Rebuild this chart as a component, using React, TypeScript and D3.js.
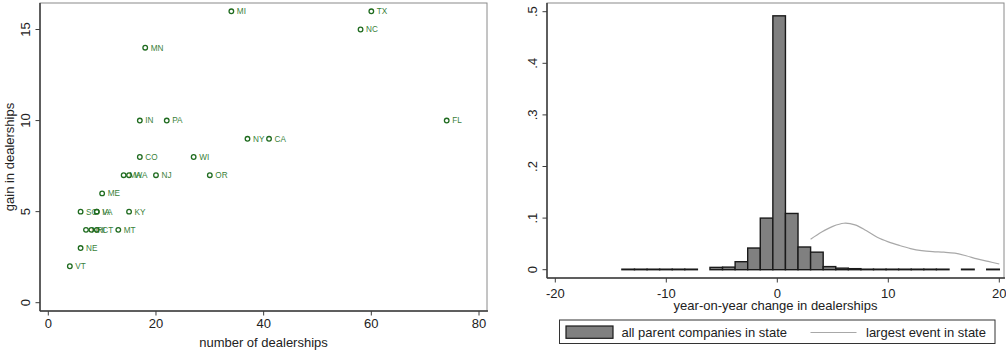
import React from 'react';
import * as d3 from 'd3';

// left panel: state scatter
const states = ['MI', 'TX', 'NC', 'MN', 'IN', 'PA', 'FL', 'NY', 'CA', 'CO', 'WI', 'MA', 'WA', 'NJ', 'OR', 'ME', 'SC', 'IA', 'VA', 'KY', 'NH', 'RI', 'CT', 'MT', 'NE', 'VT'];
const dealerships = [34, 60, 58, 18, 17, 22, 74, 37, 41, 17, 27, 14, 15, 20, 30, 10, 6, 9, 9, 15, 7, 8, 9, 13, 6, 4];
const gains = [16, 16, 15, 14, 10, 10, 10, 9, 9, 8, 8, 7, 7, 7, 7, 6, 5, 5, 5, 5, 4, 4, 4, 4, 3, 2];
const scatterXTicks = [0, 20, 40, 60, 80];
const scatterYTicks = [0, 5, 10, 15];

// right panel: histogram of year-on-year change (30 bins from -14 to 20)
const binStart = -14;
const binEnd = 20;
const histDensity = [
  0.001, 0.001, 0.001, 0.001, 0.001, 0.001, 0, 0.0045, 0.005, 0.0155,
  0.042, 0.1, 0.492, 0.109, 0.044, 0.034, 0.006, 0.003, 0.002, 0.001,
  0.001, 0.001, 0.001, 0.001, 0.001, 0.001, 0, 0.001, 0, 0.001,
];
// kernel density of largest event in state
const eventX = [3, 4, 5, 6, 7, 8, 9, 10, 11, 12, 13, 14, 15, 16, 17, 18, 19, 20];
const eventDensity = [0.059, 0.073, 0.084, 0.09, 0.087, 0.076, 0.063, 0.054, 0.047, 0.041, 0.037, 0.035, 0.034, 0.032, 0.027, 0.021, 0.016, 0.011];
const histXTicks = [-20, -10, 0, 10, 20];
const histYTicks = [0, 0.1, 0.2, 0.3, 0.4, 0.5];
const histYLabels = ['0', '.1', '.2', '.3', '.4', '.5'];
const legendLabels = ['all parent companies in state', 'largest event in state'];

const font = '"Liberation Sans", Arial, sans-serif';
const axisColor = '#3c3c3c';
const frameColor = '#8a8a8a';

function Scatter() {
  const left = 40, right = 487, top = 3, bottom = 311;
  const x = d3.scaleLinear().domain([0, 80]).range([48.3, 479]);
  const y = d3.scaleLinear().domain([0, 15]).range([302.7, 29.5]);

  return (
    <g>
      <rect x={left} y={top} width={right - left} height={bottom - top} fill="white" stroke={frameColor} strokeWidth={1} />
      {states.map((s, i) => (
        <g key={s}>
          <circle cx={x(dealerships[i])} cy={y(gains[i])} r={2.3} fill="none" stroke="#1f6b1f" strokeWidth={1.3} />
          <text x={x(dealerships[i]) + 5.5} y={y(gains[i]) + 2.9} fontSize={8.2} fill="#3a7f3a" fontFamily={font}>{s}</text>
        </g>
      ))}
      <line x1={left} x2={left} y1={top} y2={bottom} stroke={axisColor} strokeWidth={1.5} />
      <line x1={left} x2={right + 1} y1={bottom} y2={bottom} stroke={axisColor} strokeWidth={1.5} />
      {scatterXTicks.map(t => (
        <g key={t}>
          <line x1={x(t)} x2={x(t)} y1={bottom} y2={bottom + 4.5} stroke={axisColor} strokeWidth={1} />
          <text x={x(t)} y={327.5} textAnchor="middle" fontSize={13} fontFamily={font} fill="#222">{t}</text>
        </g>
      ))}
      {scatterYTicks.map(t => (
        <g key={t}>
          <line x1={left - 4.5} x2={left} y1={y(t)} y2={y(t)} stroke={axisColor} strokeWidth={1} />
          <text transform={`translate(29.5,${y(t)}) rotate(-90)`} textAnchor="middle" fontSize={13} fontFamily={font} fill="#222">{t}</text>
        </g>
      ))}
      <text x={(left + right) / 2} y={346.5} textAnchor="middle" fontSize={13} fontFamily={font} fill="#222">number of dealerships</text>
      <text transform={`translate(13.5,${(top + bottom) / 2}) rotate(-90)`} textAnchor="middle" fontSize={13} fontFamily={font} fill="#222">gain in dealerships</text>
    </g>
  );
}

function Histogram() {
  const left = 547, right = 1004, top = 3, bottom = 278;
  const x = d3.scaleLinear().domain([-20, 20]).range([555.3, 999.3]);
  const y = d3.scaleLinear().domain([0, 0.5]).range([269.7, 11.7]);
  const binWidth = (binEnd - binStart) / histDensity.length;
  const line = d3.line<number>()
    .x((_, i) => x(eventX[i]))
    .y(d => y(d))
    .curve(d3.curveCatmullRom);

  return (
    <g>
      <rect x={left} y={top} width={right - left} height={bottom - top} fill="white" stroke={frameColor} strokeWidth={1} />
      {histDensity.map((d, i) => d > 0 && (
        <rect key={i}
          x={x(binStart + i * binWidth)}
          y={y(d)}
          width={x(binStart + (i + 1) * binWidth) - x(binStart + i * binWidth)}
          height={y(0) - y(d)}
          fill="#808080" stroke="#1a1a1a" strokeWidth={1.4} />
      ))}
      <path d={line(eventDensity) || ''} fill="none" stroke="#a8a8a8" strokeWidth={1.2} />
      <line x1={left} x2={left} y1={top} y2={bottom} stroke={axisColor} strokeWidth={1.5} />
      <line x1={left} x2={right + 1} y1={bottom} y2={bottom} stroke={axisColor} strokeWidth={1.5} />
      {histXTicks.map(t => (
        <g key={t}>
          <line x1={x(t)} x2={x(t)} y1={bottom} y2={bottom + 4.5} stroke={axisColor} strokeWidth={1} />
          <text x={x(t)} y={298} textAnchor="middle" fontSize={13} fontFamily={font} fill="#222">{t}</text>
        </g>
      ))}
      {histYTicks.map((t, i) => (
        <g key={t}>
          <line x1={left - 4.5} x2={left} y1={y(t)} y2={y(t)} stroke={axisColor} strokeWidth={1} />
          <text transform={`translate(537,${y(t)}) rotate(-90)`} textAnchor="middle" fontSize={13} fontFamily={font} fill="#222">{histYLabels[i]}</text>
        </g>
      ))}
      <text x={(left + right) / 2} y={310} textAnchor="middle" fontSize={13} fontFamily={font} fill="#222">year-on-year change in dealerships</text>

      {/* legend */}
      <rect x={559.5} y={320} width={435.5} height={23.5} fill="white" stroke="#333" strokeWidth={1} />
      <rect x={566} y={326} width={47} height={12.3} fill="#808080" stroke="#1a1a1a" strokeWidth={1.2} />
      <text x={621.5} y={337} fontSize={13} fontFamily={font} fill="#222">{legendLabels[0]}</text>
      <line x1={810.5} x2={856.5} y1={332.5} y2={332.5} stroke="#a8a8a8" strokeWidth={1.2} />
      <text x={866} y={337} fontSize={13} fontFamily={font} fill="#222">{legendLabels[1]}</text>
    </g>
  );
}

export default function App() {
  return (
    <svg width={1006} height={352} style={{ position: 'absolute', left: 0, top: 0, background: 'white' }}>
      <Scatter />
      <Histogram />
    </svg>
  );
}
